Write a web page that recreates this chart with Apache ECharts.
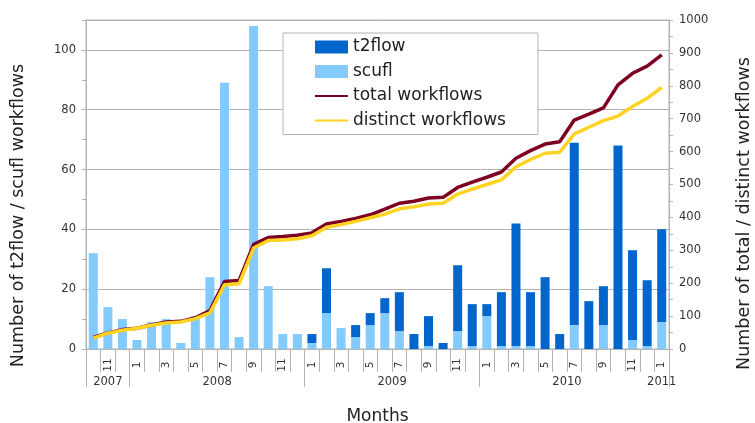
<!DOCTYPE html>
<html>
<head>
<meta charset="utf-8">
<script src="https://cdn.jsdelivr.net/npm/echarts@6/dist/echarts.min.js"></script>
<style>
  html, body { margin: 0; padding: 0; background: #fff; }
  #chart { width: 755px; height: 423px; }
</style>
</head>
<body>
<div id="chart"></div>
<script>
// months Oct 2007 .. Jan 2011
var monthLabels = ['10', '11', '12',
  '1', '2', '3', '4', '5', '6', '7', '8', '9', '10', '11', '12',
  '1', '2', '3', '4', '5', '6', '7', '8', '9', '10', '11', '12',
  '1', '2', '3', '4', '5', '6', '7', '8', '9', '10', '11', '12',
  '1']
// year groups (in category units)
var yearLabels = ['2007', '2008', '2009', '2010', '2011']
var yearCenters = [1.5, 9, 21, 33, 39.5]
var yearBounds = [0, 3, 15, 27, 40]

// bars (left axis)
var scufl = [32, 14, 10, 3, 9, 10, 2, 11, 24, 89, 4, 108, 21, 5, 5, 2, 12, 7, 4, 8,
  12, 6, 0, 1, 0, 6, 1, 11, 1, 1, 1, 0, 0, 8, 0, 8, 0, 3, 1, 9]
var t2flow = [0, 0, 0, 0, 0, 0, 0, 0, 0, 0, 0, 0, 0, 0, 0, 3, 15, 0, 4, 4,
  5, 13, 5, 10, 2, 22, 14, 4, 18, 41, 18, 24, 5, 61, 16, 13, 68, 30, 22, 31]
// lines (right axis)
var totalWorkflows = [35, 49, 59, 63, 73, 82, 84, 95, 117, 205, 208, 318, 339, 342, 346, 353, 380, 388, 397, 408,
  425, 443, 449, 459, 461, 491, 507, 522, 538, 580, 603, 623, 630, 696, 714, 733, 803, 838, 860, 894]
var distinctWorkflows = [33, 48, 57, 63, 72, 79, 82, 92, 110, 195, 198, 307, 330, 331, 335, 344, 370, 378, 388, 399,
  410, 426, 432, 441, 443, 471, 486, 500, 514, 554, 576, 595, 598, 654, 674, 694, 708, 737, 762, 795]

var gridColor = '#b3b3b3'
var textColor = '#333'
var font = 'DejaVu Sans, Verdana, sans-serif'

var chart = echarts.init(document.getElementById('chart'))

chart.setOption({
  animation: false,
  backgroundColor: '#fff',
  textStyle: { fontFamily: font },
  grid: {
    left: 86,
    right: 86,
    top: 20,
    bottom: 74,
    show: true,
    borderColor: gridColor,
    borderWidth: 1,
    containLabel: false,
    outerBoundsMode: 'none'
  },
  legend: {
    data: [
      { name: 't2flow', icon: 'rect' },
      { name: 'scufl', icon: 'rect' },
      { name: 'total workflows', itemStyle: { opacity: 0 } },
      { name: 'distinct workflows', itemStyle: { opacity: 0 } }
    ],
    orient: 'vertical',
    left: 283,
    top: 33,
    padding: [4, 32, 4, 31],
    itemWidth: 33,
    itemHeight: 13,
    itemGap: 4.5,
    backgroundColor: '#fff',
    borderColor: gridColor,
    borderWidth: 1,
    textStyle: { fontSize: 17, color: '#222', lineHeight: 20, fontFamily: font }
  },
  xAxis: [
    {
      // month axis
      type: 'category',
      data: monthLabels,
      position: 'bottom',
      axisLine: { lineStyle: { color: gridColor } },
      axisTick: { show: true, interval: 0, length: 23, lineStyle: { color: gridColor } },
      axisLabel: {
        interval: function (index) { return index % 2 === 1 },
        rotate: 90,
        align: 'center',
        margin: 16,
        fontSize: 10.5,
        color: textColor
      },
      splitLine: { show: false }
    },
    {
      // year axis
      type: 'value',
      min: 0,
      max: 40,
      position: 'bottom',
      axisLine: { show: false },
      axisTick: { show: true, length: 38, customValues: yearBounds, lineStyle: { color: gridColor } },
      axisLabel: {
        customValues: yearCenters,
        margin: 27,
        fontSize: 11.5,
        color: textColor,
        formatter: function (v) {
          return yearLabels[yearCenters.indexOf(v)]
        }
      },
      splitLine: { show: false },
      name: 'Months',
      nameLocation: 'middle',
      nameGap: 59,
      nameTextStyle: { fontSize: 17, color: '#222' }
    }
  ],
  yAxis: [
    {
      type: 'value',
      min: 0,
      max: 110,
      interval: 20,
      position: 'left',
      name: 'Number of t2flow / scufl workflows',
      nameLocation: 'middle',
      nameRotate: 90,
      nameGap: 59,
      nameTextStyle: { fontSize: 17.5, color: '#222', padding: [0, 62, 0, 0] },
      axisLine: { show: true, lineStyle: { color: gridColor } },
      axisTick: { show: true, length: 4, lineStyle: { color: gridColor } },
      minorTick: { show: true, splitNumber: 2, length: 4, lineStyle: { color: gridColor } },
      axisLabel: { fontSize: 11.5, color: textColor, margin: 10, showMaxLabel: false },
      splitLine: { show: true, lineStyle: { color: gridColor } }
    },
    {
      type: 'value',
      min: 0,
      max: 1000,
      interval: 100,
      position: 'right',
      name: 'Number of total / distinct workflows',
      nameLocation: 'middle',
      nameRotate: 90,
      nameGap: 66,
      nameTextStyle: { fontSize: 17.5, color: '#222', padding: [0, 58, 0, 0] },
      axisLine: { show: true, lineStyle: { color: gridColor } },
      axisTick: { show: true, length: 4, lineStyle: { color: gridColor } },
      minorTick: { show: true, splitNumber: 2, length: 4, lineStyle: { color: gridColor } },
      axisLabel: { fontSize: 11.5, color: textColor, margin: 10, formatter: function (v) { return String(v) } },
      splitLine: { show: false }
    }
  ],
  series: [
    {
      name: 'scufl',
      type: 'bar',
      stack: 'wf',
      xAxisIndex: 0,
      yAxisIndex: 0,
      barWidth: 9,
      itemStyle: { color: '#83caff' },
      data: scufl
    },
    {
      name: 't2flow',
      type: 'bar',
      stack: 'wf',
      xAxisIndex: 0,
      yAxisIndex: 0,
      barWidth: 9,
      itemStyle: { color: '#0066cc' },
      data: t2flow
    },
    {
      name: 'total workflows',
      type: 'line',
      xAxisIndex: 0,
      yAxisIndex: 1,
      symbol: 'none',
      lineStyle: { color: '#7e0021', width: 3.5 },
      itemStyle: { color: '#7e0021' },
      data: totalWorkflows
    },
    {
      name: 'distinct workflows',
      type: 'line',
      xAxisIndex: 0,
      yAxisIndex: 1,
      symbol: 'none',
      lineStyle: { color: '#ffd320', width: 3.5 },
      itemStyle: { color: '#ffd320' },
      data: distinctWorkflows
    }
  ]
})
</script>
</body>
</html>
